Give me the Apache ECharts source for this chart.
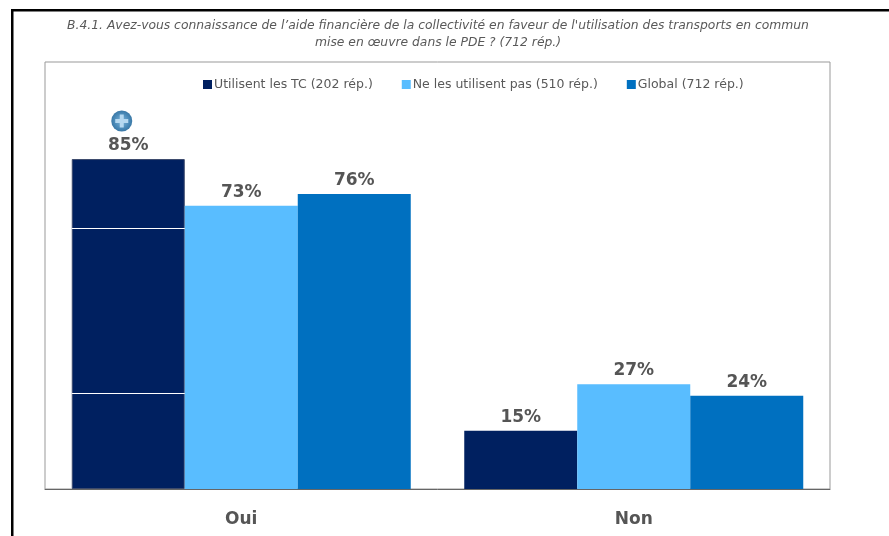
<!DOCTYPE html>
<html><head><meta charset="utf-8">
<style>html,body{margin:0;padding:0;background:#fff}#c{width:889px;height:536px}</style>
<script src="https://cdn.jsdelivr.net/npm/echarts@6/dist/echarts.min.js"></script>
</head><body><div id="c"></div>
<script>
const categories = ['Oui', 'Non'];
const seriesNames = ['Utilisent les TC (202 rép.)', 'Ne les utilisent pas (510 rép.)', 'Global (712 rép.)'];
const usersTC = [85, 15];
const nonUsers = [73, 27];
const globalAll = [76, 24];
const whiteRules = [67.3, 24.7];
const iconLevel = 94.8;
const titleText = "B.4.1. Avez-vous connaissance de l’aide financière de la collectivité en faveur de l'utilisation des transports en commun\nmise en œuvre dans le PDE ? (712 rép.)";
const colors = ['#002060', '#59BDFF', '#0070C0'];
const FONT = '"DejaVu Sans", Verdana, sans-serif';
const BAR = 113;

const chart = echarts.init(document.getElementById('c'), null, {renderer: 'canvas'});
const barLabel = {show: true, position: 'top', distance: 5, formatter: '{c}%', color: '#555', fontFamily: FONT, fontWeight: 'bold', fontSize: 17};
chart.setOption({
  animation: false,
  backgroundColor: '#fff',
  title: {
    text: titleText, left: 433, top: 12, textAlign: 'center',
    textStyle: {fontFamily: FONT, fontStyle: 'italic', fontWeight: 'normal', fontSize: 12.33, lineHeight: 17, color: '#595959'}
  },
  legend: {
    data: seriesNames, left: 198, top: 73, icon: 'rect', itemWidth: 9, itemHeight: 9, itemGap: 29,
    textStyle: {fontFamily: FONT, fontSize: 12.5, color: '#595959', padding: [0, 0, 0, -3]}
  },
  grid: {left: 45, right: 59, top: 62, bottom: 47, show: true, borderColor: '#999', borderWidth: 1, backgroundColor: '#fff'},
  xAxis: {
    type: 'category', data: categories,
    axisLine: {show: true, lineStyle: {color: '#666', width: 1}}, axisTick: {show: false},
    axisLabel: {margin: 22, color: '#555', fontFamily: FONT, fontWeight: 'bold', fontSize: 17}
  },
  yAxis: {type: 'value', min: 0, max: 110, show: false, splitLine: {show: false}},
  series: [
    {name: seriesNames[0], type: 'bar', data: usersTC.map((v, i) => i === 0 ? {value: v, itemStyle: {borderColor: '#3c4a6c', borderWidth: 1}} : v), barWidth: BAR, barGap: '0%', itemStyle: {color: colors[0]}, label: barLabel},
    {name: seriesNames[1], type: 'bar', data: nonUsers, barWidth: BAR, itemStyle: {color: colors[1]}, label: barLabel},
    {name: seriesNames[2], type: 'bar', data: globalAll, barWidth: BAR, itemStyle: {color: colors[2]}, label: barLabel},
    {
      type: 'custom', silent: true, z: 5, data: whiteRules,
      encode: {y: 0},
      renderItem: (p, api) => {
        const c = api.coord([0, api.value(0)]);
        return {type: 'rect', shape: {x: c[0] - BAR * 1.5, y: Math.round(c[1]), width: BAR, height: 1}, style: {fill: '#fff'}};
      }
    },
    {
      type: 'custom', silent: true, z: 6, data: [iconLevel],
      encode: {y: 0},
      renderItem: (p, api) => {
        const c = api.coord([0, api.value(0)]);
        const x = c[0] - BAR - 6.5, y = c[1];
        return {type: 'group', children: [
          {type: 'circle', shape: {cx: x, cy: y, r: 10.5}, style: {fill: {type: 'radial', x: .5, y: .5, r: .5, colorStops: [{offset: 0, color: '#7fb4d8'}, {offset: .7, color: '#4a8ab8'}, {offset: 1, color: '#3a78a6'}]}}},
          {type: 'rect', shape: {x: x - 6.5, y: y - 2, width: 13, height: 4}, style: {fill: '#b5d8f0'}},
          {type: 'rect', shape: {x: x - 2, y: y - 6.5, width: 4, height: 13}, style: {fill: '#b5d8f0'}}
        ]};
      }
    }
  ],
  graphic: [
    {type: 'rect', silent: true, shape: {x: 11, y: 9, width: 878, height: 2.5}, style: {fill: '#000'}},
    {type: 'rect', silent: true, shape: {x: 11, y: 9, width: 2.5, height: 527}, style: {fill: '#000'}}
  ]
});
</script></body></html>
